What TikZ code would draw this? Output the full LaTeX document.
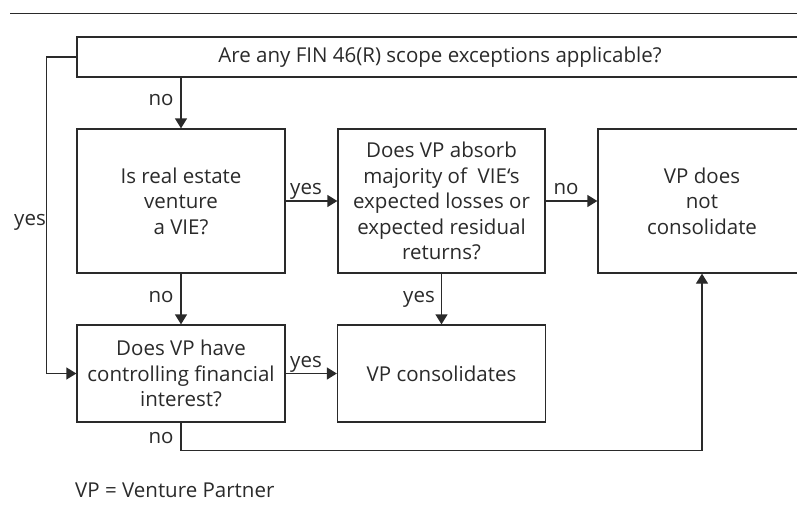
\documentclass[tikz,border=0pt]{standalone}
\usepackage{fontspec}
\setmainfont{Open Sans}
\usetikzlibrary{arrows.meta}
\definecolor{ink}{HTML}{2A2A2A}
\tikzset{
  box/.style={draw=ink, line width=1.3pt, align=center, inner sep=0pt,
              font=\fontsize{20.5}{25.5}\selectfont, text=ink},
  lbl/.style={anchor=base, inner sep=0pt, font=\fontsize{20.5}{23}\selectfont, text=ink},
  arr/.style={draw=ink, line width=1.3pt, -{Triangle[length=10pt,width=12pt]}},
}
\begin{document}
\begin{tikzpicture}[x=1pt,y=-1pt]
  \useasboundingbox (0,0) rectangle (797,514);
  \clip (0,0) rectangle (797,514);
  % header rule
  \draw[ink, line width=1.5pt] (10,13.5) -- (805,13.5);
  % boxes
  \node[box, minimum width=726pt, minimum height=40pt] (scope) at (440,57)
    {Are any FIN 46(R) scope exceptions applicable?};
  \node[box, minimum width=208pt, minimum height=144pt] (vie) at (181,201)
    {Is real estate\\venture\\a VIE?};
  \node[box, minimum width=207pt, minimum height=144pt] (absorb) at (441.5,201)
    {Does VP absorb\\majority of \ VIE‘s\\expected losses or\\expected residual\\returns?};
  \node[box, minimum width=208pt, minimum height=144pt] (notcons) at (702,201)
    {VP does\\not\\consolidate};
  \node[box, minimum width=208pt, minimum height=97pt] (cfi) at (181,373.5)
    {Does VP have\\controlling financial\\interest?};
  \node[box, minimum width=208pt, minimum height=97pt] (cons) at (441.5,373.5)
    {VP consolidates};
  % connectors
  \draw[arr] (scope.south -| vie.north) -- (vie.north);
  \draw[arr] (scope.west) -- ++(-30,0) |- (cfi.west);
  \draw[arr] (vie.east) -- (absorb.west);
  \draw[arr] (absorb.east) -- (notcons.west);
  \draw[arr] (vie.south) -- (cfi.north);
  \draw[arr] (absorb.south) -- (cons.north);
  \draw[arr] (cfi.east) -- (cons.west);
  \draw[arr] (cfi.south) -- ++(0,28) -| (notcons.south);
  % branch labels
  \node[lbl] (l1) at (161,105) {no};
  \node[lbl] (l2) at (30,225) {yes};
  \node[lbl] (l3) at (306,194) {yes};
  \node[lbl] (l4) at (566,194) {no};
  \node[lbl] (l5) at (161,302) {no};
  \node[lbl] (l6) at (419,302) {yes};
  \node[lbl] (l7) at (306,367) {yes};
  \node[lbl] (l8) at (161,443) {no};
  % legend
  \node[lbl, anchor=base west] (legend) at (75,497) {VP = Venture Partner};
\end{tikzpicture}
\end{document}
